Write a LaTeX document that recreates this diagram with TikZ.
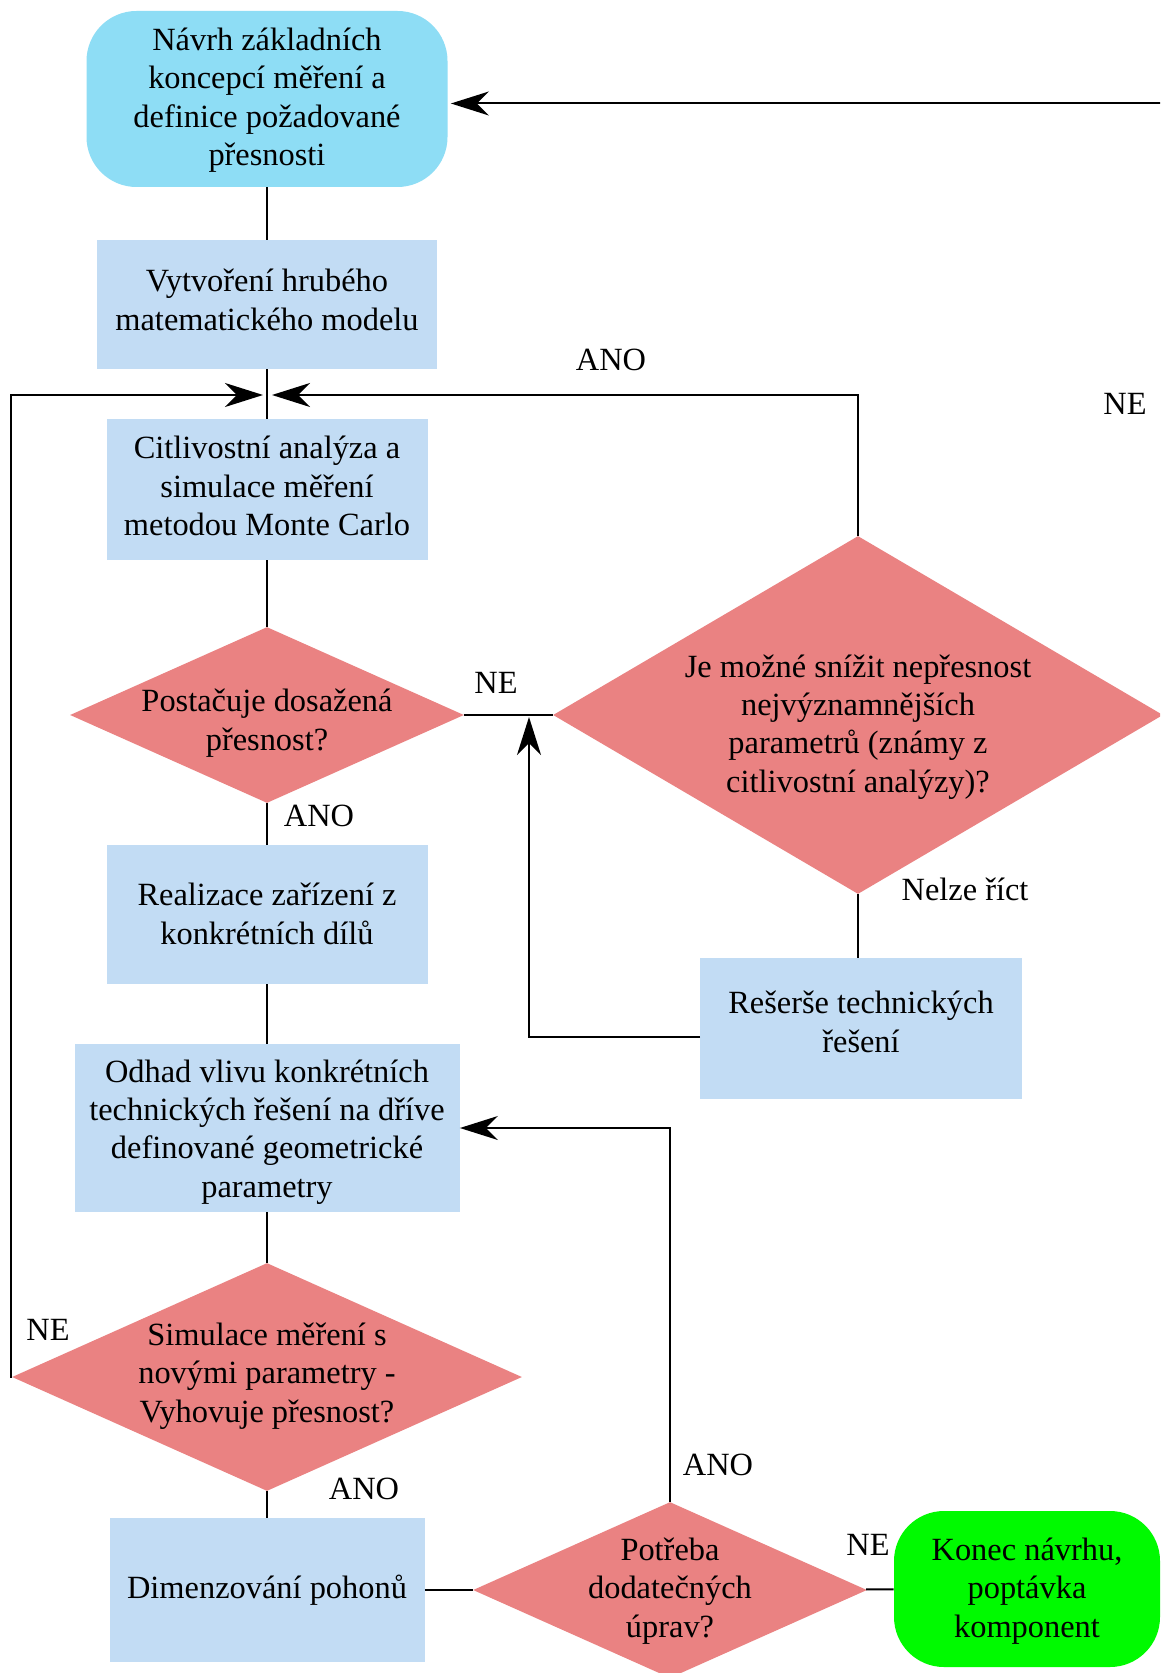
\documentclass[tikz,border=0pt]{standalone}
\usepackage{fontspec}
\setmainfont{Liberation Serif}
\usetikzlibrary{shapes.geometric,arrows.meta}
\definecolor{topblue}{RGB}{142,221,245}
\definecolor{boxblue}{RGB}{194,220,244}
\definecolor{diared}{RGB}{234,130,130}
\definecolor{endgreen}{RGB}{0,250,0}
\tikzset{
  box/.style={fill=boxblue, inner sep=0pt, align=center},
  startnode/.style={fill=topblue, rounded corners=25pt, inner sep=0pt, align=center},
  endnode/.style={fill=endgreen, rounded corners=25pt, inner sep=0pt, align=center},
  dia/.style={diamond, fill=diared, inner sep=0pt},
  txt/.style={align=center, inner sep=0pt},
  lbl/.style={inner sep=0pt},
  conn/.style={line width=1pt},
  arr/.style={conn, -{Stealth[length=19pt,width=12pt,inset=6pt]}}
}
\begin{document}
\begin{tikzpicture}[x=0.5pt,y=-0.5pt,font=\fontsize{16.2}{19.2}\selectfont]
\fill[white] (0,0) rectangle (1160,1673);
\clip (0,0) rectangle (1160,1673);
% nodes
\node[startnode, minimum width=180.5pt, minimum height=88pt] (top) at (267,99) {};
\node[txt] (topt) at (267,100) {Návrh základních\\koncepcí měření a\\definice požadované\\přesnosti};
\node[box, minimum width=170pt, minimum height=64.5pt] (b2) at (267,304.5) {};
\node[txt] (b2t) at (267,300) {Vytvoření hrubého\\matematického modelu};
\node[box, minimum width=160.5pt, minimum height=70.5pt] (b3) at (267,489.5) {};
\node[txt] (b3t) at (267,486) {Citlivostní analýza a\\simulace měření\\metodou Monte Carlo};
\node[dia, minimum width=197pt, minimum height=88pt] (d1) at (267,715) {};
\node[txt] (d1t) at (267,723) {Postačuje dosažená\\přesnost?};
\node[dia, minimum width=305pt, minimum height=179pt] (big) at (858,715) {};
\node[txt] (bigt) at (858,727) {Je možné snížit nepřesnost\\nejvýznamnějších\\parametrů (známy z\\citlivostní analýzy)?};
\node[box, minimum width=160.5pt, minimum height=69.5pt] (real) at (267,914.5) {};
\node[txt] (realt) at (267,914) {Realizace zařízení z\\konkrétních dílů};
\node[box, minimum width=161pt, minimum height=70.5pt] (res) at (861,1028.5) {};
\node[txt] (rest) at (861,1022) {Rešerše technických\\řešení};
\node[box, minimum width=192.5pt, minimum height=84pt] (odhad) at (267,1128) {};
\node[txt] (odhadt) at (267,1132) {Odhad vlivu konkrétních\\technických řešení na dříve\\definované geometrické\\parametry};
\node[dia, minimum width=255pt, minimum height=114pt] (sim) at (267,1377) {};
\node[txt] (simt) at (267,1376) {Simulace měření s\\novými parametry -\\Vyhovuje přesnost?};
\node[box, minimum width=157.5pt, minimum height=72pt] (dim) at (267,1590) {Dimenzování pohonů};
\node[dia, minimum width=197pt, minimum height=88pt] (pot) at (670,1590) {};
\node[txt] (pott) at (670,1591) {Potřeba\\dodatečných\\úprav?};
\node[endnode, minimum width=133pt, minimum height=78pt] (konec) at (1027,1589) {};
\node[txt] (konect) at (1027,1591) {Konec návrhu,\\poptávka\\komponent};
% labels
\node[lbl] (lANOa) at (611,360) {ANO};
\node[lbl] (lNEa) at (1125,404) {NE};
\node[lbl] (lNEb) at (496,683) {NE};
\node[lbl] (lANOb) at (319,816) {ANO};
\node[lbl] (lNelze) at (965,889) {Nelze říct};
\node[lbl] (lNEc) at (48,1330) {NE};
\node[lbl] (lANOc) at (364,1489) {ANO};
\node[lbl] (lANOd) at (718,1465) {ANO};
\node[lbl] (lNEd) at (868,1545) {NE};
% coordinates
\coordinate (jl) at (263,395);
\coordinate (jr) at (272,395);
\coordinate (lft) at (11,395);
\coordinate (mid) at (529,717);
\coordinate (resj) at (700,1037);
\coordinate (re) at (1170,103.5);
% connectors
\draw[conn] (top) -- (b2);
\draw[conn] (b2) -- (b3);
\draw[conn] (b3) -- (d1);
\draw[conn] (d1) -- (real);
\draw[conn] (real) -- (odhad);
\draw[conn] (odhad) -- (sim);
\draw[conn] (sim) -- (dim);
\draw[conn] (dim) -- (pot);
\draw[conn] (pot) -- (konec);
\draw[conn] (d1) -- (big);
\draw[conn] (big.south) -- (big.south |- res.north);
\draw[arr] (resj) -| (mid);
\draw[arr] (big.north) |- (jr);
\draw[arr] (sim.west) -| (lft) -- (jl);
\draw[arr] (pot.north) |- (odhad.east);
\draw[arr, shorten >=1.5pt] (re) -- (top.east |- re);
\end{tikzpicture}
\end{document}
